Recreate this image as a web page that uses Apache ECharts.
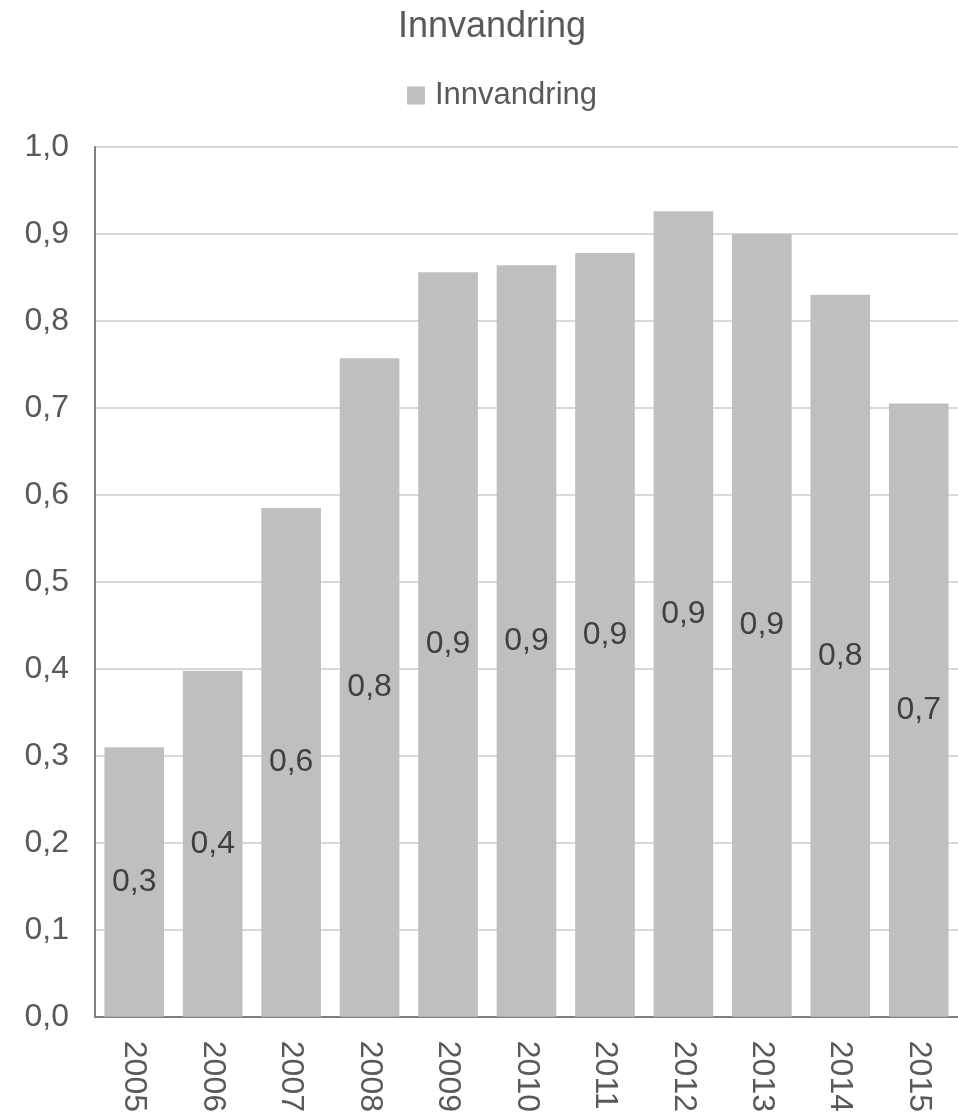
<!DOCTYPE html>
<html><head><meta charset="utf-8">
<script src="https://cdn.jsdelivr.net/npm/echarts@6/dist/echarts.min.js"></script>
<style>html,body{margin:0;padding:0;background:#fff}#c{width:958px;height:1115px}</style>
</head><body><div id="c"></div>
<script>
const categories = ['2005','2006','2007','2008','2009','2010','2011','2012','2013','2014','2015'];
const values = [0.310, 0.398, 0.585, 0.757, 0.856, 0.864, 0.878, 0.926, 0.900, 0.830, 0.705];
const seriesName = 'Innvandring';
const titleText = 'Innvandring';
const fmt = v => Number(v).toFixed(1).replace('.', ',');
const FONT = '"Liberation Sans", Arial, sans-serif';
const chart = echarts.init(document.getElementById('c'), null, {renderer: 'canvas'});
chart.setOption({
  animation: false,
  textStyle: {fontFamily: FONT},
  title: {text: titleText, left: 393, top: 4,
    textStyle: {fontFamily: FONT, fontSize: 36, fontWeight: 'normal', color: '#595959'}},
  legend: {data: [seriesName], top: 75, left: 402, icon: 'rect', itemWidth: 18, itemHeight: 18, itemGap: 4,
    textStyle: {fontFamily: FONT, fontSize: 31, color: '#595959', padding: [0, 0, 0, 5]}},
  grid: {left: 95, top: 147, width: 865, bottom: 94, containLabel: false},
  xAxis: {type: 'category', data: categories,
    axisLine: {lineStyle: {color: '#7f7f7f', width: 2}},
    axisTick: {show: false},
    axisLabel: {rotate: -90, margin: 24, fontFamily: FONT, fontSize: 32, color: '#595959'}},
  yAxis: {type: 'value', min: 0, max: 1.0, interval: 0.1,
    axisLine: {show: true, lineStyle: {color: '#7f7f7f', width: 2}},
    axisTick: {show: false},
    splitLine: {lineStyle: {color: '#d9d9d9', width: 2}},
    axisLabel: {formatter: v => fmt(v), margin: 26, fontFamily: FONT, fontSize: 32, color: '#595959'}},
  series: [{name: seriesName, type: 'bar', data: values, barCategoryGap: '24%',
    itemStyle: {color: '#bfbfbf'},
    label: {show: true, position: 'inside', formatter: p => fmt(p.value),
      fontFamily: FONT, fontSize: 32, color: '#404040'}}]
});
</script></body></html>
